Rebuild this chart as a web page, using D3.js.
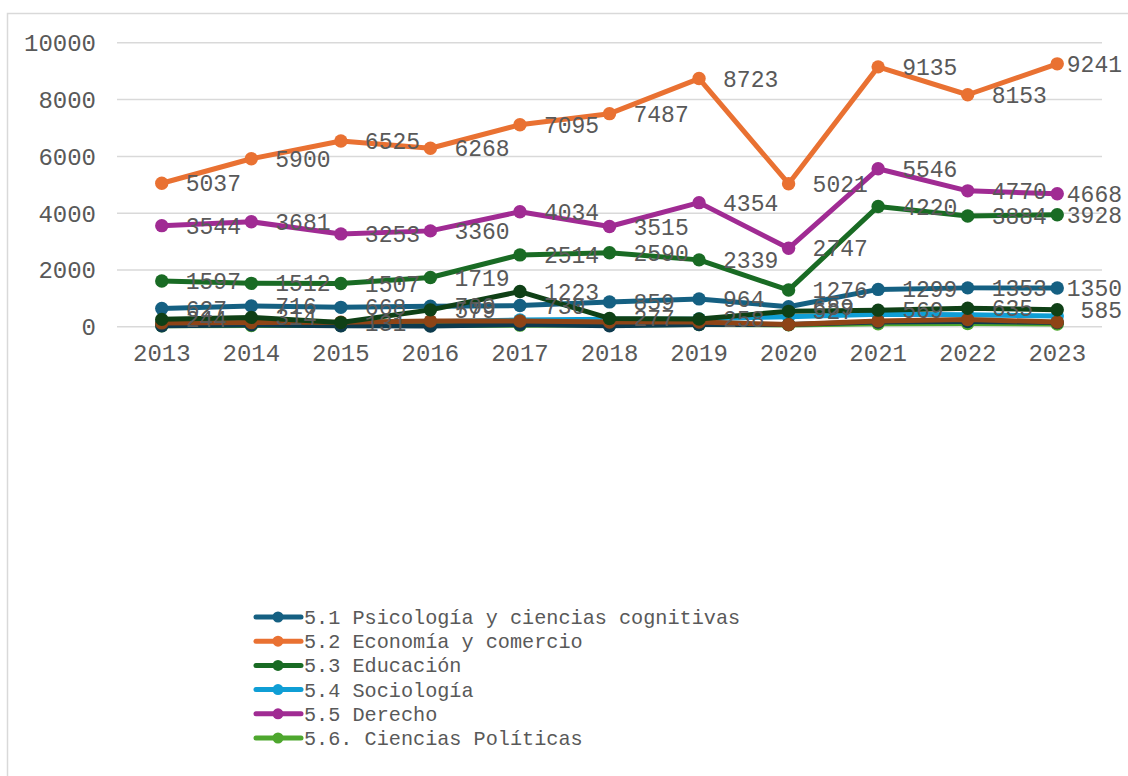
<!DOCTYPE html>
<html>
<head>
<meta charset="utf-8">
<script src="https://cdn.jsdelivr.net/npm/d3@7"></script>
<style>
  html, body { margin: 0; padding: 0; background: #fff; }
  svg { display: block; }
  text { font-family: "Liberation Mono", "Courier New", monospace; fill: #595959; }
</style>
</head>
<body>
<svg id="chart" width="1128" height="776"></svg>
<script>

//============================================================
// Data
//------------------------------------------------------------

var years = ['2013', '2014', '2015', '2016', '2017', '2018', '2019', '2020', '2021', '2022', '2023'];
var yTicks = [0, 2000, 4000, 6000, 8000, 10000];

var psicologia = [627, 716, 668, 709, 730, 859, 964, 689, 1299, 1353, 1350];
var economia   = [5037, 5900, 6525, 6268, 7095, 7487, 8723, 5021, 9135, 8153, 9241];
var educacion  = [1597, 1512, 1507, 1719, 2514, 2590, 2339, 1276, 4220, 3884, 3928];
var sociologia = [130, 150, 120, 160, 220, 250, 260, 340, 420, 410, 360];
var derecho    = [3544, 3681, 3253, 3360, 4034, 3515, 4354, 2747, 5546, 4770, 4668];
var politicas  = [20, 30, 25, 30, 40, 50, 60, 50, 90, 100, 80];
var serie7     = [20, 50, 15, 10, 60, 20, 60, 60, 150, 170, 130];
var serie8     = [120, 130, 140, 186, 186, 150, 150, 60, 190, 240, 150];
var serie9     = [244, 314, 131, 579, 1223, 277, 258, 527, 569, 635, 585];

var seriesNames = [
  '5.1 Psicología y ciencias cognitivas',
  '5.2 Economía y comercio',
  '5.3 Educación',
  '5.4 Sociología',
  '5.5 Derecho',
  '5.6. Ciencias Políticas',
  '5.7',
  '5.8',
  '5.9'
];
var seriesValues = [psicologia, economia, educacion, sociologia, derecho, politicas, serie7, serie8, serie9];
var seriesColors = ['#156082', '#e97132', '#196b24', '#0f9ed5', '#a02b93', '#4ea72e', '#0d3a4e', '#8e4416', '#0f4016'];
var labelled = [true, true, true, false, true, false, false, false, true];
var legendCount = 6; // legend box only shows the first six entries

//============================================================
// Layout
//------------------------------------------------------------

var svg = d3.select('#chart');

var plot = {left: 117, right: 1102, top: 42.3, bottom: 326.3};
var labelLimit = 1122; // labels are pulled back inside the chart on the right

var x = d3.scaleBand()
      .domain(years)
      .range([plot.left, plot.right]);

var y = d3.scaleLinear()
      .domain([0, 10000])
      .range([plot.bottom, plot.top]);

function cx(d, i) { return x(years[i]) + x.bandwidth() / 2; }

var data = seriesValues.map(function(vals, s) {
  return {
    name: seriesNames[s],
    color: seriesColors[s],
    labels: labelled[s],
    values: vals.map(function(v, i) { return {year: years[i], i: i, value: v}; })
  };
});

// chart frame
svg.append('rect')
  .attr('x', 7.5)
  .attr('y', 13.5)
  .attr('width', 1140)
  .attr('height', 780)
  .attr('fill', 'none')
  .attr('stroke', '#d9d9d9')
  .attr('stroke-width', 1.5);

//------------------------------------------------------------
// Gridlines + axes

var yAxis = d3.axisLeft(y)
      .tickValues(yTicks)
      .tickSize(-(plot.right - plot.left))
      .tickPadding(21)
      .tickFormat(d3.format('d'));

var yAxisG = svg.append('g')
  .attr('transform', 'translate(' + plot.left + ',0)')
  .call(yAxis);
yAxisG.select('.domain').remove();
yAxisG.selectAll('.tick line')
  .attr('stroke', '#d9d9d9')
  .attr('stroke-width', 1.5);
yAxisG.selectAll('.tick text')
  .style('font-size', '24px')
  .attr('dy', '0.35em');

var xAxis = d3.axisBottom(x)
      .tickSize(0)
      .tickPadding(18);

var xAxisG = svg.append('g')
  .attr('transform', 'translate(0,' + plot.bottom + ')')
  .call(xAxis);
xAxisG.select('.domain').remove();
xAxisG.selectAll('.tick text')
  .style('font-size', '24px');

//------------------------------------------------------------
// Lines and markers

var line = d3.line()
      .x(function(d) { return cx(d, d.i); })
      .y(function(d) { return y(d.value); });

var series = svg.append('g').attr('class', 'series-wrap')
  .selectAll('g.series')
  .data(data)
  .enter().append('g')
    .attr('class', 'series');

series.append('path')
  .attr('d', function(d) { return line(d.values); })
  .attr('fill', 'none')
  .attr('stroke', function(d) { return d.color; })
  .attr('stroke-width', 5)
  .attr('stroke-linejoin', 'round')
  .attr('stroke-linecap', 'round');

series.selectAll('circle')
  .data(function(d) { return d.values.map(function(v) { return {v: v, color: d.color}; }); })
  .enter().append('circle')
    .attr('cx', function(d) { return cx(d.v, d.v.i); })
    .attr('cy', function(d) { return y(d.v.value); })
    .attr('r', 6.7)
    .attr('fill', function(d) { return d.color; });

//------------------------------------------------------------
// Data labels (drawn above every line)

var labelWrap = svg.append('g').attr('class', 'labels');
data.filter(function(d) { return d.labels; }).forEach(function(d) {
  labelWrap.selectAll(null)
    .data(d.values)
    .enter().append('text')
      .attr('y', function(v) { return y(v.value); })
      .attr('dy', '0.35em')
      .style('font-size', '23px')
      .text(function(v) { return v.value; })
      .attr('x', function(v) {
        var w = this.getComputedTextLength();
        return Math.min(cx(v, v.i) + 24, labelLimit - w);
      });
});

//------------------------------------------------------------
// Legend

var legend = svg.append('g')
  .attr('transform', 'translate(255,617)');

var item = legend.selectAll('g.item')
  .data(data.slice(0, legendCount))
  .enter().append('g')
    .attr('class', 'item')
    .attr('transform', function(d, i) { return 'translate(0,' + (i * 24.2) + ')'; });

item.append('line')
  .attr('x1', 1).attr('x2', 46)
  .attr('stroke', function(d) { return d.color; })
  .attr('stroke-width', 5)
  .attr('stroke-linecap', 'round');

item.append('circle')
  .attr('cx', 23)
  .attr('r', 5.5)
  .attr('fill', function(d) { return d.color; });

item.append('text')
  .attr('x', 49)
  .attr('dy', '0.35em')
  .style('font-size', '20.2px')
  .text(function(d) { return d.name; });

</script>
</body>
</html>
